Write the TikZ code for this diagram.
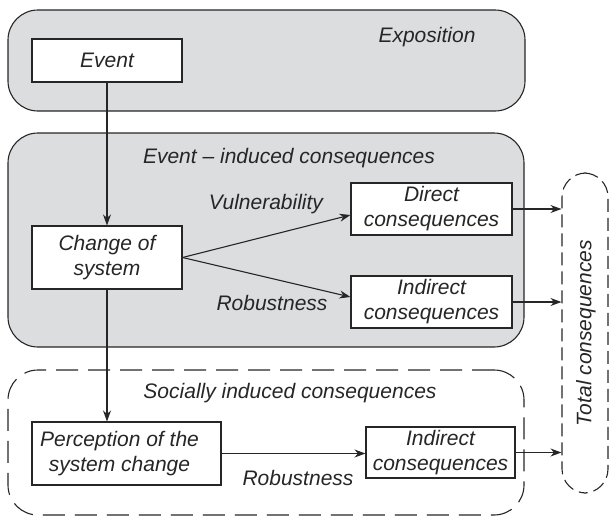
\documentclass[tikz,border=0pt]{standalone}
\usepackage{fontspec}
\setmainfont{Liberation Sans}
\usetikzlibrary{arrows.meta}
\definecolor{boxgray}{HTML}{DCDDDE}
\definecolor{ink}{HTML}{262626}
\begin{document}
\begin{tikzpicture}[x=1pt,y=-1pt,
  every node/.style={font=\fontsize{21}{25}\selectfont\itshape, text=ink},
  panel/.style={draw=ink, line width=1.1pt, fill=boxgray, rounded corners=30pt, inner sep=0pt},
  dpanel/.style={draw=ink, line width=1.1pt, dash pattern=on 22pt off 10pt, rounded corners=30pt, inner sep=0pt},
  tpanel/.style={draw=ink, line width=1.1pt, dash pattern=on 13pt off 6pt, rounded corners=24pt, inner sep=0pt},
  wbox/.style={draw=ink, line width=1.1pt, fill=white, align=center, inner sep=0pt},
  conn/.style={draw=ink, line width=1.1pt, -{Stealth[length=11pt,width=8pt]}},
  plain/.style={inner sep=0pt}
]
\useasboundingbox (0,0) rectangle (610,517);
% panels
\node[panel, minimum width=517pt, minimum height=101pt] (expo) at (266.5,60.5) {};
\node[panel, minimum width=516pt, minimum height=214pt] (evind) at (266,240) {};
\node[dpanel, minimum width=516pt, minimum height=145pt] (social) at (266,442.5) {};
\node[tpanel, minimum width=46pt, minimum height=320pt] (total) at (585,333) {};
% panel titles
\node[plain] (texpo) at (427,37) {Exposition};
\node[plain] (tevind) at (289,158) {Event -- induced consequences};
\node[plain] (tsocial) at (290,393) {Socially induced consequences};
\node[plain, rotate=90] (ttotal) at (586,333) {Total consequences};
% boxes
\node[wbox, minimum width=150pt, minimum height=43pt] (event) at (107,60.5) {Event};
\node[wbox, minimum width=150pt, minimum height=63pt] (change) at (107,257.5) {Change of\\system};
\node[wbox, minimum width=161pt, minimum height=52pt] (direct) at (431.5,209) {Direct\\consequences};
\node[wbox, minimum width=161pt, minimum height=52pt] (indirect) at (431.5,302) {Indirect\\consequences};
\node[wbox, minimum width=189pt, minimum height=63pt,
      label={[xshift=-7pt, align=center, inner sep=0pt]center:Perception of the\\system change}] (percep) at (126.5,453.5) {};
\node[wbox, minimum width=149pt, minimum height=51pt] (sindirect) at (440.5,452.5) {Indirect\\consequences};
% edge labels
\node[plain] (lvul) at (266,204) {Vulnerability};
\node[plain] (lrob1) at (272,303) {Robustness};
\node[plain] (lrob2) at (298,478) {Robustness};
% connectors
\draw[conn] (event.south) -- (change.north);
\draw[conn] (change.east) -- ([yshift=-6pt]direct.west);
\draw[conn] (change.east) -- ([yshift=5pt]indirect.west);
\draw[conn] (change.south) -- (change.south |- percep.north);
\draw[conn] (percep.east) -- (percep.east -| sindirect.west);
\draw[conn] (direct.east) -- (direct.east -| total.west);
\draw[conn] (indirect.east) -- (indirect.east -| total.west);
\draw[conn] (sindirect.east) -- (sindirect.east -| total.west);
\end{tikzpicture}
\end{document}
